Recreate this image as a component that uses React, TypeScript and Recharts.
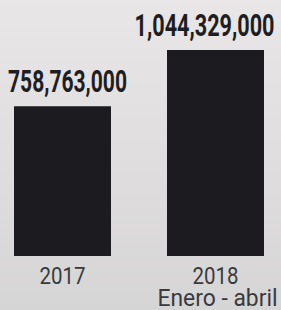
import { BarChart, Bar, XAxis, YAxis, LabelList } from "recharts";

const years = ["2017", "2018"];
const periods = ["", "Enero - abril"];
const amounts = [758763000, 1044329000];

const data = years.map((year, i) => ({ year, period: periods[i], amount: amounts[i] }));

const labelShift = [5, -11];
const labelWidth = [119, 140];
const narrow = "'Liberation Sans Narrow', 'Roboto', sans-serif";

function ValueLabel(props: any) {
  const { x, y, width, value, index } = props;
  const cx = x + width / 2 + labelShift[index];
  return (
    <g transform={`translate(${cx}, ${y - 14}) scale(1, 1.18)`}>
      <text
        x={0}
        y={0}
        textAnchor="middle"
        textLength={labelWidth[index]}
        lengthAdjust="spacingAndGlyphs"
        fontFamily={narrow}
        fontWeight="bold"
        fontSize={27}
        fill="#1e1e22"
      >
        {Number(value).toLocaleString("en-US")}
      </text>
    </g>
  );
}

function YearTick(props: any) {
  const { x, y, payload, index } = props;
  const sub = periods[index];
  const font = { fontFamily: narrow, fontSize: 20, fill: "#3a3a3e" };
  return (
    <g>
      <g transform={`translate(${x}, ${y + 20}) scale(1, 1.2)`}>
        <text x={0} y={0} textAnchor="middle" textLength={46} lengthAdjust="spacingAndGlyphs" {...font}>
          {payload.value}
        </text>
      </g>
      {sub && (
        <g transform={`translate(${x + 2}, ${y + 42}) scale(1, 1.2)`}>
          <text x={0} y={0} textAnchor="middle" textLength={120} lengthAdjust="spacingAndGlyphs" {...font}>
            {sub}
          </text>
        </g>
      )}
    </g>
  );
}

export default function App() {
  return (
    <div
      style={{
        position: "absolute",
        left: 0,
        top: 0,
        width: 281,
        height: 310,
        background: "linear-gradient(180deg, #e8e6e7 0%, #dedcdd 60%, #d6d5d6 100%)",
      }}
    >
      <BarChart width={281} height={310} data={data} margin={{ top: 50, right: 0, bottom: 0, left: 0 }}>
        <XAxis
          dataKey="year"
          axisLine={false}
          tickLine={false}
          height={54}
          interval={0}
          padding={{ left: -14, right: -11 }}
          tick={<YearTick />}
        />
        <YAxis hide domain={[0, amounts[1]]} />
        <Bar dataKey="amount" fill="#1b1b20" barSize={97} isAnimationActive={false}>
          <LabelList dataKey="amount" content={<ValueLabel />} />
        </Bar>
      </BarChart>
    </div>
  );
}
